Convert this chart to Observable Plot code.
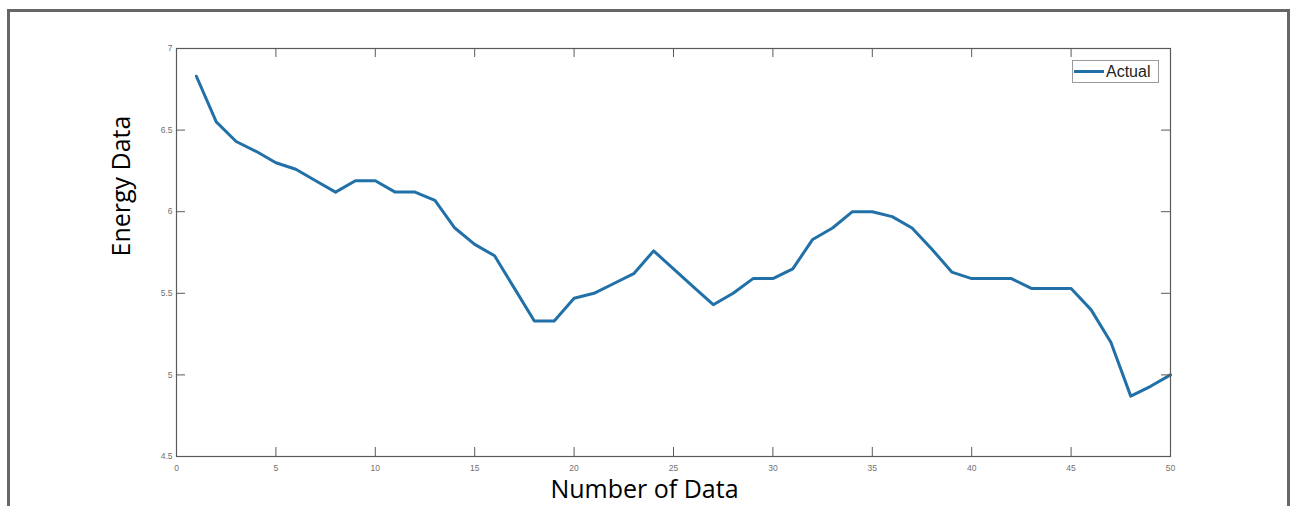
<!DOCTYPE html>
<html>
<head>
<meta charset="utf-8">
<script src="https://cdn.jsdelivr.net/npm/d3@7"></script>
<script src="https://cdn.jsdelivr.net/npm/@observablehq/plot@0.6"></script>
<style>
  html, body { margin: 0; padding: 0; background: #fff; overflow: hidden; }
  #wrap { position: relative; width: 1295px; height: 506px; }
  #border { position: absolute; left: 7px; top: 9px; width: 1283px; height: 520px;
            border: 3px solid #666; border-bottom: none; box-sizing: border-box; pointer-events: none; }
  #legend { position: absolute; left: 1072px; top: 60px; width: 87px; height: 23px; box-sizing: border-box;
            border: 1px solid #9a9a9a; background: #fff; display: flex; align-items: center;
            font-family: "Liberation Sans", Arial, sans-serif; font-size: 16px; color: #222; }
  #legend .sw { display: inline-block; width: 30px; height: 3px; background: #2171a8; margin-left: 1px; margin-right: 2px; }
</style>
</head>
<body>
<div id="wrap">
  <div id="chart"></div>
  <div id="border"></div>
  <div id="legend"><span class="sw"></span><span>Actual</span></div>
</div>
<script>
const seriesName = "Actual";
const index = d3.range(1, 51);
const energy = [
  6.83, 6.55, 6.43, 6.37, 6.30, 6.26, 6.19, 6.12, 6.19, 6.19,
  6.12, 6.12, 6.07, 5.90, 5.80, 5.73, 5.53, 5.33, 5.33, 5.47,
  5.50, 5.56, 5.62, 5.76, 5.65, 5.54, 5.43, 5.50, 5.59, 5.59,
  5.65, 5.83, 5.90, 6.00, 6.00, 5.97, 5.90, 5.77, 5.63, 5.59,
  5.59, 5.59, 5.53, 5.53, 5.53, 5.40, 5.20, 4.87, 4.93, 5.00
];
const xTicks = [0, 5, 10, 15, 20, 25, 30, 35, 40, 45, 50];
const yTicks = [4.5, 5, 5.5, 6, 6.5, 7];
const xLabel = "Number of Data";
const yLabel = "Energy Data";

const data = index.map((x, i) => ({x, y: energy[i]}));

const W = 1295, H = 506, mL = 176, mR = 125, mT = 48, mB = 50;
const innerW = W - mL - mR, innerH = H - mT - mB;
const tick = 9;

const chart = Plot.plot({
  width: W, height: H,
  marginLeft: mL, marginRight: mR, marginTop: mT, marginBottom: mB,
  style: {background: "#fff", overflow: "visible"},
  x: {domain: [0, 50]},
  y: {domain: [4.5, 7]},
  marks: [
    Plot.line(data, {x: "x", y: "y", stroke: "#2171a8", strokeWidth: 3, strokeLinejoin: "round"}),
    Plot.frame({stroke: "#5a5a5a", strokeWidth: 1.2}),
    Plot.ruleX(xTicks, {x: d => d, insetTop: innerH - tick, stroke: "#5a5a5a"}),
    Plot.ruleX(xTicks, {x: d => d, insetBottom: innerH - tick, stroke: "#5a5a5a"}),
    Plot.ruleY(yTicks, {y: d => d, insetRight: innerW - tick, stroke: "#5a5a5a"}),
    Plot.ruleY(yTicks, {y: d => d, insetLeft: innerW - tick, stroke: "#5a5a5a"}),
    Plot.axisX(xTicks, {anchor: "bottom", tickSize: 0, tickPadding: 8, label: null,
      fontSize: 8.5, fill: "#707070", fontFamily: "Liberation Sans, Arial, sans-serif", tickFormat: d => String(d)}),
    Plot.axisY(yTicks, {anchor: "left", tickSize: 0, tickPadding: 4, label: null,
      fontSize: 8.5, fill: "#707070", fontFamily: "Liberation Sans, Arial, sans-serif", tickFormat: d => String(d)}),
    Plot.text([xLabel], {text: d => d, frameAnchor: "bottom", dx: -29, dy: 33, lineAnchor: "middle",
      fontSize: 25, fontFamily: "Open Sans, sans-serif", fill: "#000"}),
    Plot.text([yLabel], {text: d => d, frameAnchor: "left", dx: -55, dy: 4, rotate: -90, lineAnchor: "middle",
      fontSize: 25, fontFamily: "Open Sans, sans-serif", fill: "#000"})
  ]
});
document.getElementById("chart").appendChild(chart);
</script>
</body>
</html>
